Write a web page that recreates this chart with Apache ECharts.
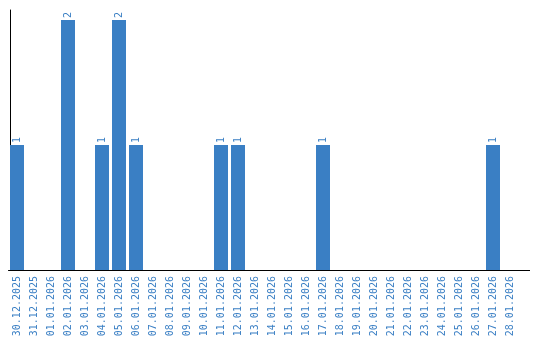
<!DOCTYPE html>
<html><head><meta charset="utf-8">
<script src="https://cdn.jsdelivr.net/npm/echarts@6/dist/echarts.min.js"></script>
<style>html,body{margin:0;padding:0;background:#fff}#c{width:540px;height:340px}</style>
</head><body><div id="c"></div>
<script>
const categories = ["30.12.2025","31.12.2025","01.01.2026","02.01.2026","03.01.2026","04.01.2026","05.01.2026","06.01.2026","07.01.2026","08.01.2026","09.01.2026","10.01.2026","11.01.2026","12.01.2026","13.01.2026","14.01.2026","15.01.2026","16.01.2026","17.01.2026","18.01.2026","19.01.2026","20.01.2026","21.01.2026","22.01.2026","23.01.2026","24.01.2026","25.01.2026","26.01.2026","27.01.2026","28.01.2026"];
const values = [1,0,0,2,0,1,2,1,0,0,0,0,1,1,0,0,0,0,1,0,0,0,0,0,0,0,0,0,1,0];
const blue = '#3a7fc4';
const chart = echarts.init(document.getElementById('c'), null, {renderer:'canvas'});
chart.setOption({
  animation:false,
  grid:{left:8.5, right:21.5, top:10, bottom:70, containLabel:false},
  xAxis:{type:'category', data:categories,
    axisLine:{show:true, lineStyle:{color:'#000', width:1}},
    axisTick:{show:false},
    axisLabel:{rotate:90, interval:0, color:blue, fontFamily:'DejaVu Sans Mono', fontSize:10, margin:6}},
  yAxis:{type:'value', min:0, max:2.08, offset:-1.5,
    axisLine:{show:true, lineStyle:{color:'#000', width:1}},
    axisTick:{show:false}, axisLabel:{show:false}, splitLine:{show:false}},
  series:[{type:'bar', data:values.map(v=>v===0?null:v), barWidth:14, itemStyle:{color:blue},
    label:{show:true, position:'top', rotate:90, align:'left', verticalAlign:'middle', distance:2,
      color:blue, fontFamily:'DejaVu Sans Mono', fontSize:10}}],
  graphic:[{type:'line', shape:{x1:518, y1:270.5, x2:530, y2:270.5}, style:{stroke:'#000', lineWidth:1}}]
});
</script></body></html>
